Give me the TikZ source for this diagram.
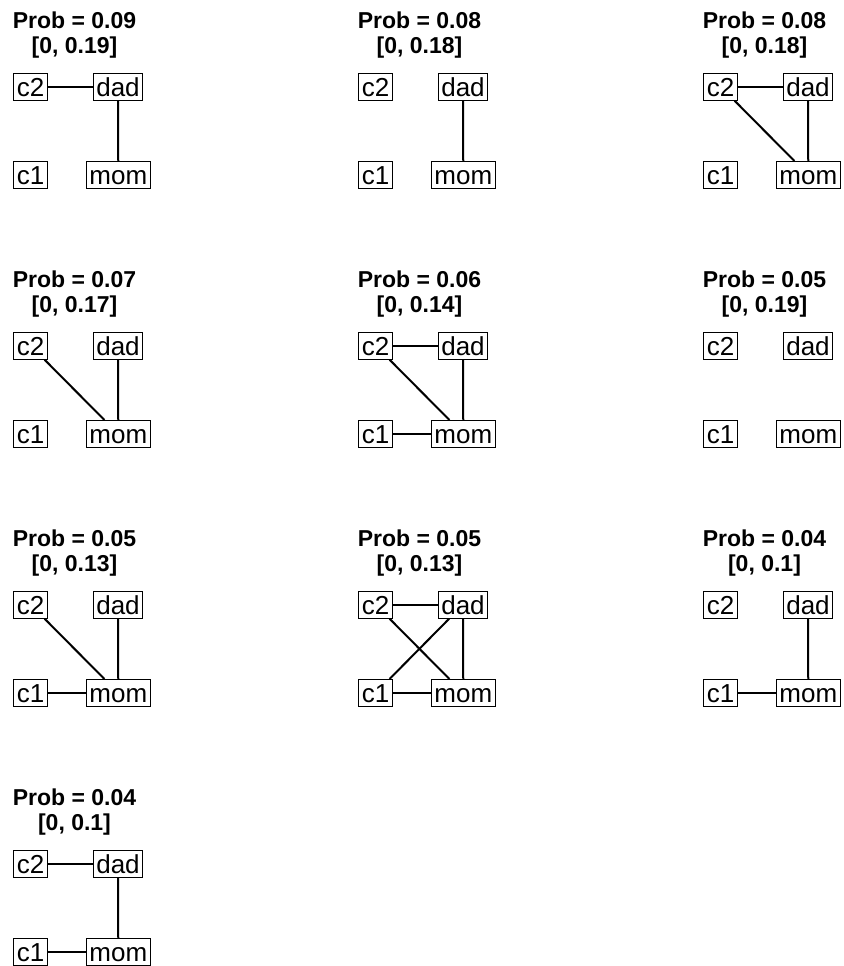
\documentclass[tikz,border=0pt]{standalone}
\usepackage{fontspec}
\setmainfont{Liberation Sans}

\tikzset{
	var/.style={draw, line width=0.5pt, inner xsep=1.5pt, inner ysep=2.05pt, text height=9.4pt, text depth=0pt, font=\fontsize{13}{15}\selectfont},
	link/.style={line width=1pt},
	prob/.style={anchor=base, font=\bfseries\fontsize{11.5}{13}\selectfont}
}

\begin{document}
\begin{tikzpicture}[x=0.5pt,y=-0.5pt]
		\useasboundingbox (0,0) rectangle (843,966);
		
		% row 1
		\begin{scope}
			\node[prob] (prob1) at (74.5,28) {Prob = 0.09};
			\node[prob] (ci1) at (74.5,53) {[0, 0.19]};
			\node[var] (c2-1) at (30.7,86.7) {c2};
			\node[var] (dad-1) at (118,86.7) {dad};
			\node[var] (c1-1) at (30.7,175) {c1};
			\node[var] (mom-1) at (118.3,175) {mom};
			\draw[link] (c2-1) -- (dad-1);
			\draw[link] (dad-1) -- (mom-1);
		\end{scope}
		
		\begin{scope}[shift={(345,0)}]
			\node[prob] (prob2) at (74.5,28) {Prob = 0.08};
			\node[prob] (ci2) at (74.5,53) {[0, 0.18]};
			\node[var] (c2-2) at (30.7,86.7) {c2};
			\node[var] (dad-2) at (118,86.7) {dad};
			\node[var] (c1-2) at (30.7,175) {c1};
			\node[var] (mom-2) at (118.3,175) {mom};
			\draw[link] (dad-2) -- (mom-2);
		\end{scope}
		
		\begin{scope}[shift={(690,0)}]
			\node[prob] (prob3) at (74.5,28) {Prob = 0.08};
			\node[prob] (ci3) at (74.5,53) {[0, 0.18]};
			\node[var] (c2-3) at (30.7,86.7) {c2};
			\node[var] (dad-3) at (118,86.7) {dad};
			\node[var] (c1-3) at (30.7,175) {c1};
			\node[var] (mom-3) at (118.3,175) {mom};
			\draw[link] (c2-3) -- (dad-3);
			\draw[link] (c2-3) -- (mom-3);
			\draw[link] (dad-3) -- (mom-3);
		\end{scope}
		
		% row 2
		\begin{scope}[shift={(0,259)}]
			\node[prob] (prob4) at (74.5,28) {Prob = 0.07};
			\node[prob] (ci4) at (74.5,53) {[0, 0.17]};
			\node[var] (c2-4) at (30.7,86.7) {c2};
			\node[var] (dad-4) at (118,86.7) {dad};
			\node[var] (c1-4) at (30.7,175) {c1};
			\node[var] (mom-4) at (118.3,175) {mom};
			\draw[link] (c2-4) -- (mom-4);
			\draw[link] (dad-4) -- (mom-4);
		\end{scope}
		
		\begin{scope}[shift={(345,259)}]
			\node[prob] (prob5) at (74.5,28) {Prob = 0.06};
			\node[prob] (ci5) at (74.5,53) {[0, 0.14]};
			\node[var] (c2-5) at (30.7,86.7) {c2};
			\node[var] (dad-5) at (118,86.7) {dad};
			\node[var] (c1-5) at (30.7,175) {c1};
			\node[var] (mom-5) at (118.3,175) {mom};
			\draw[link] (c2-5) -- (dad-5);
			\draw[link] (c2-5) -- (mom-5);
			\draw[link] (dad-5) -- (mom-5);
			\draw[link] (c1-5) -- (mom-5);
		\end{scope}
		
		\begin{scope}[shift={(690,259)}]
			\node[prob] (prob6) at (74.5,28) {Prob = 0.05};
			\node[prob] (ci6) at (74.5,53) {[0, 0.19]};
			\node[var] (c2-6) at (30.7,86.7) {c2};
			\node[var] (dad-6) at (118,86.7) {dad};
			\node[var] (c1-6) at (30.7,175) {c1};
			\node[var] (mom-6) at (118.3,175) {mom};
		\end{scope}
		
		% row 3
		\begin{scope}[shift={(0,518)}]
			\node[prob] (prob7) at (74.5,28) {Prob = 0.05};
			\node[prob] (ci7) at (74.5,53) {[0, 0.13]};
			\node[var] (c2-7) at (30.7,86.7) {c2};
			\node[var] (dad-7) at (118,86.7) {dad};
			\node[var] (c1-7) at (30.7,175) {c1};
			\node[var] (mom-7) at (118.3,175) {mom};
			\draw[link] (c2-7) -- (mom-7);
			\draw[link] (dad-7) -- (mom-7);
			\draw[link] (c1-7) -- (mom-7);
		\end{scope}
		
		\begin{scope}[shift={(345,518)}]
			\node[prob] (prob8) at (74.5,28) {Prob = 0.05};
			\node[prob] (ci8) at (74.5,53) {[0, 0.13]};
			\node[var] (c2-8) at (30.7,86.7) {c2};
			\node[var] (dad-8) at (118,86.7) {dad};
			\node[var] (c1-8) at (30.7,175) {c1};
			\node[var] (mom-8) at (118.3,175) {mom};
			\draw[link] (c2-8) -- (dad-8);
			\draw[link] (c2-8) -- (mom-8);
			\draw[link] (c1-8) -- (dad-8);
			\draw[link] (dad-8) -- (mom-8);
			\draw[link] (c1-8) -- (mom-8);
		\end{scope}
		
		\begin{scope}[shift={(690,518)}]
			\node[prob] (prob9) at (74.5,28) {Prob = 0.04};
			\node[prob] (ci9) at (74.5,53) {[0, 0.1]};
			\node[var] (c2-9) at (30.7,86.7) {c2};
			\node[var] (dad-9) at (118,86.7) {dad};
			\node[var] (c1-9) at (30.7,175) {c1};
			\node[var] (mom-9) at (118.3,175) {mom};
			\draw[link] (dad-9) -- (mom-9);
			\draw[link] (c1-9) -- (mom-9);
		\end{scope}
		
		% row 4
		\begin{scope}[shift={(0,777)}]
			\node[prob] (prob10) at (74.5,28) {Prob = 0.04};
			\node[prob] (ci10) at (74.5,53) {[0, 0.1]};
			\node[var] (c2-10) at (30.7,86.7) {c2};
			\node[var] (dad-10) at (118,86.7) {dad};
			\node[var] (c1-10) at (30.7,175) {c1};
			\node[var] (mom-10) at (118.3,175) {mom};
			\draw[link] (c2-10) -- (dad-10);
			\draw[link] (dad-10) -- (mom-10);
			\draw[link] (c1-10) -- (mom-10);
		\end{scope}
\end{tikzpicture}
\end{document}
